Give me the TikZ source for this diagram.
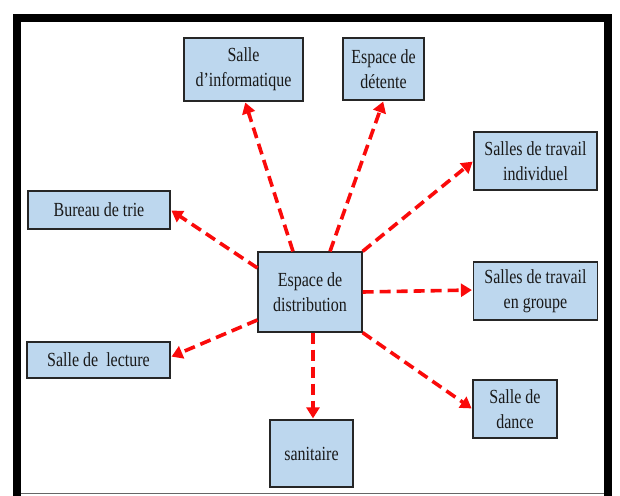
\documentclass[tikz,border=0pt]{standalone}
\usepackage{fontspec}
\setmainfont{Liberation Serif}[FakeStretch=0.8]
\usetikzlibrary{positioning,arrows.meta,shadows}
\definecolor{roomblue}{RGB}{189,215,238}
\definecolor{linkred}{RGB}{250,10,10}
\tikzset{
  room/.style={draw=black!85,fill=roomblue,line width=1.2pt,inner sep=0pt,
    align=center,text=black!90,font=\fontsize{20}{25}\selectfont,
    drop shadow={shadow xshift=0.8pt,shadow yshift=-0.8pt,fill=black!35,opacity=0.6}},
  link/.style={draw=linkred,line width=3.6pt,dash pattern=on 11pt off 6pt,
    -{Triangle[length=11pt,width=13pt]},shorten >=1pt},
  frame/.style={draw=black,line width=8pt},
}
\begin{document}
\begin{tikzpicture}[x=1pt,y=-1pt]
  \useasboundingbox (0,0) rectangle (620,495);
  % outer frame, bottom edge runs off the page
  \draw[frame] (17,540) -- (17,18) -- (608,18) -- (608,540);
  \draw[black!60,line width=1pt] (21,493) -- (604,493);

  % central hall
  \node[room,minimum width=104pt,minimum height=80pt] (dist) at (310,292)
    {Espace de\\distribution};

  % surrounding rooms
  \node[room,minimum width=119pt,minimum height=63pt] (info) at (243.5,69.5)
    {Salle\\d’informatique};
  \node[room,minimum width=81pt,minimum height=62pt] (detente) at (383.5,69)
    {Espace de\\détente};
  \node[room,minimum width=123pt,minimum height=58pt] (indiv) at (535.5,161)
    {Salles de travail\\individuel};
  \node[room,minimum width=142pt,minimum height=38pt] (bureau) at (99,210)
    {Bureau de trie};
  \node[room,minimum width=124pt,minimum height=58pt] (groupe) at (535.5,291)
    {Salles de travail\\en groupe};
  \node[room,minimum width=143pt,minimum height=36pt] (lecture) at (98.5,360)
    {Salle de\ \ lecture};
  \node[room,minimum width=84pt,minimum height=58pt] (dance) at (515,409)
    {Salle de\\dance};
  \node[room,minimum width=83pt,minimum height=67pt] (sanit) at (311.5,453.5)
    {sanitaire};

  % circulation links
  \draw[link] ([xshift=-17pt]dist.north) -- ([xshift=1.5pt]info.south);
  \draw[link] ([xshift=20pt]dist.north) -- (detente.south);
  \draw[link] (dist.north east) -- (indiv.west);
  \draw[link] ([yshift=24pt]dist.west) -- (bureau.east);
  \draw[link] (dist.east) -- ([yshift=1pt]groupe.west);
  \draw[link] ([yshift=-28pt]dist.west) -- ([yshift=3pt]lecture.east);
  \draw[link] ([xshift=3pt]dist.south) -- ([xshift=1.5pt]sanit.north);
  \draw[link] (dist.south east) -- (dance.west);
\end{tikzpicture}
\end{document}
